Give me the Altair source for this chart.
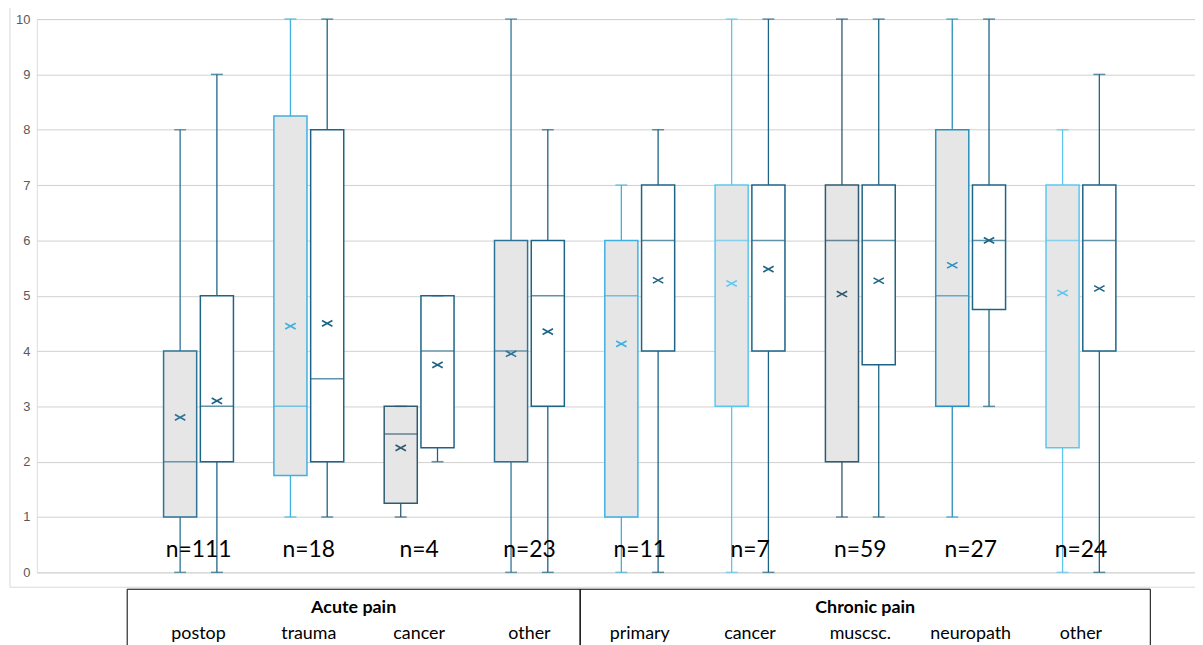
import altair as alt
import pandas as pd

# ---- data ----
groups = ["Acute pain", "Acute pain", "Acute pain", "Acute pain",
          "Chronic pain", "Chronic pain", "Chronic pain", "Chronic pain", "Chronic pain"]
categories = ["postop", "trauma", "cancer", "other",
              "primary", "cancer", "muscsc.", "neuropath", "other"]
n_values = [111, 18, 4, 23, 11, 7, 59, 27, 24]
series = ["first", "second"]

# first series (grey boxes)
a_min = [0, 1, 1, 0, 0, 0, 1, 1, 0]
a_q1 = [1, 1.75, 1.25, 2, 1, 3, 2, 3, 2.25]
a_med = [2, 3, 2.5, 4, 5, 6, 6, 5, 6]
a_q3 = [4, 8.25, 3, 6, 6, 7, 7, 8, 7]
a_max = [8, 10, 3, 10, 7, 10, 10, 10, 8]
a_mean = [2.8, 4.45, 2.25, 3.95, 4.13, 5.22, 5.03, 5.55, 5.05]
a_tone = ["dark", "light", "slate", "dark", "light", "pale", "slate", "mid", "pale"]

# second series (white boxes)
b_min = [0, 1, 2, 0, 0, 0, 1, 3, 0]
b_q1 = [2, 2, 2.25, 3, 4, 4, 3.75, 4.75, 4]
b_med = [3, 3.5, 4, 5, 6, 6, 6, 6, 6]
b_q3 = [5, 8, 5, 6, 7, 7, 7, 7, 7]
b_max = [9, 10, 5, 8, 8, 10, 10, 10, 9]
b_mean = [3.1, 4.5, 3.75, 4.35, 5.28, 5.48, 5.27, 6.0, 5.13]
b_tone = ["navy"] * 9

keys = [g + "|" + c for g, c in zip(groups, categories)]

rows = []
for i, k in enumerate(keys):
    rows.append(dict(key=k, series=series[0], mn=a_min[i], q1=a_q1[i], med=a_med[i],
                     q3=a_q3[i], mx=a_max[i], mean=a_mean[i], tone=a_tone[i]))
    rows.append(dict(key=k, series=series[1], mn=b_min[i], q1=b_q1[i], med=b_med[i],
                     q3=b_q3[i], mx=b_max[i], mean=b_mean[i], tone=b_tone[i]))
df = pd.DataFrame(rows)
ndf = pd.DataFrame({"key": keys, "label": ["n=" + str(v) for v in n_values]})

W, H = 1166, 557

tone_domain = ["slate", "dark", "mid", "light", "pale", "navy"]
tone_range = ["#2f5a70", "#2e7396", "#2a90bd", "#3fb0e0", "#5cc6f0", "#1d6486"]

xscale = alt.Scale(domain=keys, paddingInner=0, paddingOuter=0.75, align=0.644)
xaxis = alt.Axis(title=None, domain=False, ticks=False, grid=False, labelPadding=53,
                 labelFont="Lato", labelFontSize=18, labelColor="#000000",
                 labelExpr="split(datum.label, '|')[1]", labelAngle=0)
yscale = alt.Scale(domain=[0, 10], nice=False, zero=False)
yaxis = alt.Axis(title=None, values=list(range(0, 11)), domain=False, ticks=False,
                 grid=True, gridColor="#d0d0d0", gridWidth=1, labelPadding=7,
                 labelFont="Liberation Sans", labelFontSize=13, labelColor="#595959")

X = alt.X("key:N", scale=xscale, axis=xaxis, sort=keys)
XO = alt.XOffset("series:N", scale=alt.Scale(domain=series, paddingInner=0.1, paddingOuter=0.55))
C = alt.Color("tone:N", scale=alt.Scale(domain=tone_domain, range=tone_range), legend=None)

base = alt.Chart(df)

whisk = base.mark_rule(strokeWidth=1.3).encode(
    x=X, xOffset=XO, y=alt.Y("mn:Q", scale=yscale, axis=yaxis), y2="mx:Q", color=C)

boxes = base.mark_bar(strokeWidth=1.5).encode(
    x=X, xOffset=XO, y=alt.Y("q1:Q", scale=yscale, axis=yaxis), y2="q3:Q",
    fill=alt.Fill("series:N", scale=alt.Scale(domain=series, range=["#e6e6e6", "#ffffff"]), legend=None),
    stroke=alt.Stroke("tone:N", scale=alt.Scale(domain=tone_domain, range=tone_range), legend=None))

med = base.mark_tick(orient="horizontal", size=33, thickness=1.5).encode(
    x=X, xOffset=XO, y=alt.Y("med:Q", scale=yscale, axis=yaxis), color=C)
cap_lo = base.mark_tick(orient="horizontal", size=12, thickness=1.5).encode(
    x=X, xOffset=XO, y=alt.Y("mn:Q", scale=yscale, axis=yaxis), color=C)
cap_hi = base.mark_tick(orient="horizontal", size=12, thickness=1.5).encode(
    x=X, xOffset=XO, y=alt.Y("mx:Q", scale=yscale, axis=yaxis), color=C)

mean = base.mark_point(shape="M-1,-0.55L1,0.55M-1,0.55L1,-0.55", size=110, filled=False,
                       strokeWidth=1.6, opacity=1).encode(
    x=X, xOffset=XO, y=alt.Y("mean:Q", scale=yscale, axis=yaxis), color=C)

nlab = alt.Chart(ndf).mark_text(font="Lato", fontSize=23, color="#000000", baseline="middle").encode(
    x=X, y=alt.value(535), text="label:N")

# outer chart-area border and the category table frame
border = alt.Chart(pd.DataFrame({"k": [0]})).mark_rect(fill=None, stroke="#d9d9d9", strokeWidth=1).encode(
    x=alt.value(-27), x2=alt.value(1175), y=alt.value(-14), y2=alt.value(572))

grp = pd.DataFrame({"group": ["Acute pain", "Chronic pain"]})
frame_a = alt.Chart(grp.iloc[[0]]).mark_rect(fill=None, stroke="#000000", strokeWidth=1).encode(
    x=alt.value(91), x2=alt.value(547), y=alt.value(574), y2=alt.value(700))
frame_c = alt.Chart(grp.iloc[[1]]).mark_rect(fill=None, stroke="#000000", strokeWidth=1).encode(
    x=alt.value(547), x2=alt.value(1121), y=alt.value(574), y2=alt.value(700))
head_a = alt.Chart(grp.iloc[[0]]).mark_text(font="Lato", fontSize=18, fontWeight="bold", color="#000000").encode(
    x=alt.value(319), y=alt.value(593), text="group:N")
head_c = alt.Chart(grp.iloc[[1]]).mark_text(font="Lato", fontSize=18, fontWeight="bold", color="#000000").encode(
    x=alt.value(834), y=alt.value(593), text="group:N")

chart = alt.layer(border, whisk, boxes, med, cap_lo, cap_hi, mean, nlab,
                  frame_a, frame_c, head_a, head_c).properties(
    width=W, height=H,
    autosize=alt.AutoSizeParams(type="none"),
    padding={"left": 29, "top": 9, "right": 0, "bottom": 71},
).configure_view(stroke=None).configure(background="#ffffff")

chart.save("out.html", embed_options={"renderer": "svg", "actions": False})
